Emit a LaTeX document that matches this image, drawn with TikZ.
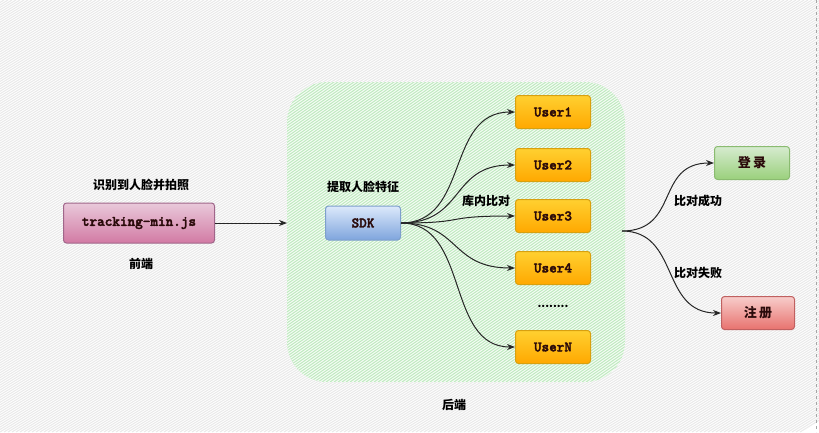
\documentclass[tikz,border=0pt]{standalone}
\usepackage{fontspec}
\setmainfont{Liberation Serif}
\newfontfamily\cjk{Noto Sans CJK SC}
\newfontfamily\mono{lmmonolt10-bold.otf}[FakeBold=2.5]
\usetikzlibrary{arrows.meta}
\definecolor{hatchgrey}{HTML}{E9E9E9}
\definecolor{hatchgreen}{HTML}{BFEABF}
\definecolor{fillgreen}{HTML}{F6FCF6}
\definecolor{txt}{HTML}{2A0A0A}
\definecolor{pinkD}{HTML}{A0668A}
\definecolor{pinkT}{HTML}{E9C9DA}
\definecolor{pinkB}{HTML}{D27AA4}
\definecolor{blueD}{HTML}{7E9FCC}
\definecolor{blueT}{HTML}{DCE9FB}
\definecolor{blueB}{HTML}{7FA5DD}
\definecolor{orD}{HTML}{D8A010}
\definecolor{orT}{HTML}{FFD030}
\definecolor{orB}{HTML}{FFA800}
\definecolor{grD}{HTML}{8ABB70}
\definecolor{grT}{HTML}{D6EBCF}
\definecolor{grB}{HTML}{9AD07C}
\definecolor{rdD}{HTML}{C06060}
\definecolor{rdT}{HTML}{F7CDCB}
\definecolor{rdB}{HTML}{E8726E}
\tikzset{
  box/.style={draw, line width=1pt, rounded corners=3pt, minimum width=75pt, minimum height=33pt, inner sep=0pt, text=txt},
  monof/.style={font=\mono\fontsize{14.5}{14}\selectfont},
  pinkbox/.style={box, monof, draw=pinkD, top color=pinkT, bottom color=pinkB},
  bluebox/.style={box, monof, draw=blueD, top color=blueT, bottom color=blueB},
  userbox/.style={box, monof, draw=orD, top color=orT, bottom color=orB},
  greenbox/.style={box, draw=grD, top color=grT, bottom color=grB, font=\cjk\bfseries\fontsize{13}{13}\selectfont},
  redbox/.style={box, draw=rdD, top color=rdT, bottom color=rdB, font=\cjk\bfseries\fontsize{13}{13}\selectfont},
  lbl/.style={font=\cjk\bfseries\fontsize{12}{12}\selectfont, inner sep=0pt},
  conn/.style={draw=black!85, line width=1pt, -{Stealth[length=8pt,width=6pt]}},
}
\begin{document}
\begin{tikzpicture}[x=1pt,y=-1pt]
\useasboundingbox (0,0) rectangle (819,432);
% background hatch
\fill[white] (0,0) rectangle (819,432);
\begin{scope}
\clip (0,0) rectangle (819,432);
\foreach \i in {0,4,...,1500} {
  \draw[hatchgrey, line width=1pt] (\i-700,432) -- (\i,0);
}
\end{scope}
\draw[gray!70, dashed, line width=0.8pt] (816,0) -- (816,432);
% green region
\fill[fillgreen, rounded corners=40pt] (287,82) rectangle (625,382);
\begin{scope}
\clip[rounded corners=40pt] (287,82) rectangle (625,382);
\foreach \i in {0,4,...,1000} {
  \draw[hatchgreen, line width=1pt] (\i-250,382) -- (\i+300,0);
}
\end{scope}
% nodes
\node[pinkbox, minimum width=151pt, minimum height=40pt] (fe) at (139,223) {tracking-min.js};
\node[lbl] (fet) at (141,185) {识别到人脸并拍照};
\node[lbl] (fel) at (141,264) {前端};
\coordinate (gin) at (287,223);
\node[bluebox, minimum width=75pt, minimum height=34pt] (sdk) at (363,223) {SDK};
\node[lbl] (sdkt) at (363,187) {提取人脸特征};
\node[userbox] (u1) at (553,112) {User1};
\node[userbox] (u2) at (553,165) {User2};
\node[userbox] (u3) at (553,216) {User3};
\node[userbox] (u4) at (553,268) {User4};
\node[userbox] (un) at (553,347) {UserN};
\node[lbl, font=\cjk\bfseries\fontsize{11}{12}\selectfont] (dots) at (553,306) {........};
\node[lbl] (kn) at (486,201) {库内比对};
\node[greenbox] (login) at (752,163) {登\,录};
\node[redbox, minimum width=73pt] (reg) at (758,313) {注\,册};
\node[lbl] (ok) at (698,201) {比对成功};
\node[lbl] (fail) at (698,273) {比对失败};
\node[lbl] (be) at (454,405) {后端};
\coordinate (split) at (622,231);
% connectors
\draw[conn] (fe.east) -- (gin);
\draw[conn] (sdk.east) .. controls (470,223) and (445,112) .. (u1.west);
\draw[conn] (sdk.east) .. controls (465,223) and (450,165) .. (u2.west);
\draw[conn] (sdk.east) .. controls (470,223) and (440,216) .. (u3.west);
\draw[conn] (sdk.east) .. controls (460,223) and (450,268) .. (u4.west);
\draw[conn] (sdk.east) .. controls (470,223) and (445,347) .. (un.west);
\draw[conn] (split) .. controls (680,231) and (655,163) .. (login.west);
\draw[conn] (split) .. controls (680,231) and (660,313) .. (reg.west);
\end{tikzpicture}
\end{document}
